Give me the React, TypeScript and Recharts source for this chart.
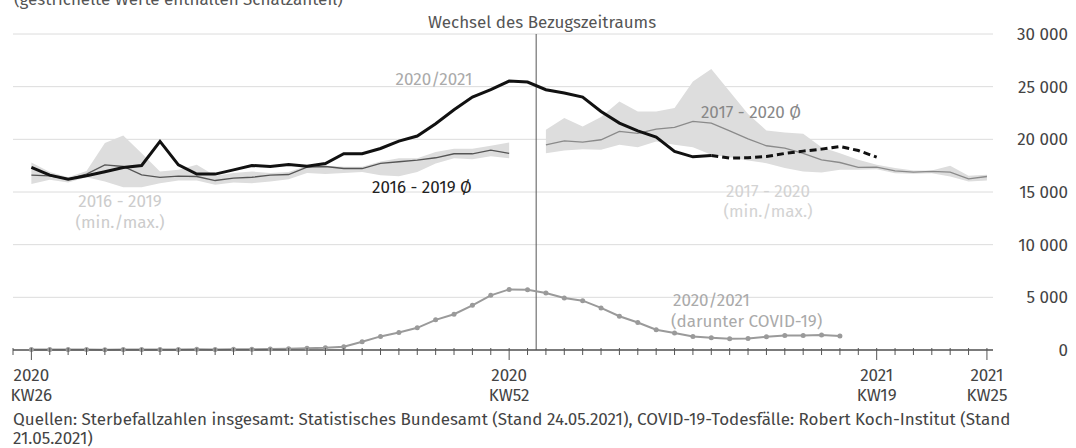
import React from "react";
import {
  ComposedChart,
  Line,
  Area,
  XAxis,
  YAxis,
  CartesianGrid,
  ReferenceLine,
} from "recharts";

// week 0 = 2020 KW26 ... week 27 = 2020 KW53, week 28 = 2021 KW1 ... week 52 = 2021 KW25
const weekLabels = [
  ...Array.from({ length: 28 }, (_, k) => `2020 KW${26 + k}`),
  ...Array.from({ length: 25 }, (_, k) => `2021 KW${1 + k}`),
];

// Sterbefälle 2020/2021 (gesichert)
const deathsStart = 0;
const deaths = [
  17330, 16600, 16220, 16540, 16920, 17330, 17520, 19800, 17580, 16700, 16700,
  17100, 17520, 17420, 17610, 17450, 17700, 18630, 18630, 19130, 19830, 20310,
  21480, 22810, 24010, 24710, 25530, 25440, 24710, 24390, 24010, 22650, 21540,
  20810, 20210, 18850, 18340, 18470,
];

// Sterbefälle 2020/2021 mit Schätzanteil (gestrichelt)
const estStart = 37;
const deathsEst = [18470, 18220, 18250, 18370, 18660, 18880, 19070, 19320, 18940, 18310];

// 2016 - 2019
const avg1619Start = 0;
const avg1619 = [
  16600, 16540, 16220, 16700, 17580, 17420, 16630, 16380, 16510, 16470, 16090,
  16320, 16400, 16600, 16660, 17360, 17420, 17230, 17230, 17710, 17870, 18030,
  18250, 18630, 18630, 18980, 18660,
];
const min1619 = [
  15750, 16160, 15900, 16410, 16000, 15460, 15460, 15840, 16090, 16100, 15700,
  15900, 15840, 16000, 16200, 16800, 16700, 16800, 16900, 16600, 16500, 16900,
  17700, 18200, 18100, 18400, 18200,
];
const max1619 = [
  17800, 16900, 16400, 17000, 19650, 20370, 18690, 16950, 17110, 17580, 16540,
  16800, 16950, 16800, 16900, 17500, 17500, 17400, 17400, 17900, 18200, 18200,
  18800, 19100, 19100, 19400, 19700,
];

// 2017 - 2020
const avg1720Start = 28;
const avg1720 = [
  19480, 19860, 19740, 19960, 20750, 20560, 20970, 21130, 21700, 21540, 20810,
  20050, 19390, 19170, 18660, 18060, 17800, 17330, 17360, 17010, 16890, 16950,
  16890, 16250, 16470,
];
const min1720 = [
  18690, 18940, 19070, 19010, 19480, 19260, 19800, 19480, 19260, 18530, 18310,
  17980, 17740, 17270, 16950, 16850, 17110, 17110, 17170, 16790, 16730, 16790,
  16470, 16000, 16090,
];
const max1720 = [
  20910, 22020, 21220, 22110, 23600, 22650, 22650, 22970, 25500, 26680, 24550,
  22400, 20840, 20650, 20530, 19260, 18690, 18060, 17580, 17270, 17040, 17040,
  17490, 16540, 16630,
];

// darunter COVID-19
const covidStart = 0;
const covid = [
  40, 50, 45, 40, 35, 40, 45, 40, 50, 60, 55, 70, 80, 100, 130, 160, 210, 315,
  786, 1290, 1667, 2107, 2862, 3397, 4246, 5189, 5755, 5724, 5409, 4938, 4686,
  3994, 3208, 2610, 1918, 1604, 1289, 1164, 1069, 1100, 1258, 1384, 1384, 1415,
  1321,
];

const yTicks = [0, 5000, 10000, 15000, 20000, 25000, 30000];
const majorTicks = [0, 26, 46, 52];
const majorYears = ["2020", "2020", "2021", "2021"];
const majorWeeks = ["KW26", "KW52", "KW19", "KW25"];
const xTicks = Array.from({ length: 54 }, (_, k) => k - 1);
const changeWeek = 27.47; // Wechsel des Bezugszeitraums

const at = (arr: number[], start: number, i: number) =>
  i >= start && i < start + arr.length ? arr[i - start] : undefined;

const data = weekLabels.map((week, i) => {
  const lo16 = at(min1619, avg1619Start, i);
  const hi16 = at(max1619, avg1619Start, i);
  const lo17 = at(min1720, avg1720Start, i);
  const hi17 = at(max1720, avg1720Start, i);
  return {
    i,
    week,
    deaths: at(deaths, deathsStart, i),
    est: at(deathsEst, estStart, i),
    avg1619: at(avg1619, avg1619Start, i),
    band1619: lo16 !== undefined && hi16 !== undefined ? [lo16, hi16] : undefined,
    avg1720: at(avg1720, avg1720Start, i),
    band1720: lo17 !== undefined && hi17 !== undefined ? [lo17, hi17] : undefined,
    covid: at(covid, covidStart, i),
  };
});

const FONT = "'Fira Sans', 'Open Sans', sans-serif";
const FS = 17;
const fmt = (v: number) => String(v).replace(/\B(?=(\d{3})+(?!\d))/g, " ");

function XTick({ x, y, payload }: { x?: number; y?: number; payload?: { value: number } }) {
  if (x == null || y == null || !payload) return null;
  const idx = majorTicks.indexOf(payload.value);
  const major = idx >= 0;
  return (
    <g>
      <line x1={x} x2={x} y1={y - 2} y2={y + (major ? 10 : 5)} stroke="#555" strokeWidth={1} />
      {major && (
        <text x={x} y={y + 31} textAnchor="middle" fill="#444" fontSize={FS} fontFamily={FONT}>
          <tspan x={x}>{majorYears[idx]}</tspan>
          <tspan x={x} dy={20}>{majorWeeks[idx]}</tspan>
        </text>
      )}
    </g>
  );
}

function YTick({ x, y, payload }: { x?: number; y?: number; payload?: { value: number } }) {
  if (x == null || y == null || !payload) return null;
  return (
    <text x={x + 75} y={y + 6} textAnchor="end" fill="#444" fontSize={FS} fontFamily={FONT}>
      {fmt(payload.value)}
    </text>
  );
}

export default function App() {
  return (
    <div style={{ position: "absolute", left: 0, top: 0, width: 1076, height: 448, background: "#fff" }}>
      <ComposedChart
        width={1076}
        height={448}
        data={data}
        margin={{ top: 34, right: 8, bottom: 38, left: 13 }}
      >
        <CartesianGrid horizontal vertical={false} stroke="#dcdcdc" />
        <XAxis
          dataKey="i"
          type="number"
          domain={[-1, 52.33]}
          ticks={xTicks}
          interval={0}
          height={60}
          tickSize={0}
          tickMargin={0}
          tickLine={false}
          axisLine={{ stroke: "#555", strokeWidth: 1.5 }}
          tick={<XTick />}
          allowDataOverflow
        />
        <YAxis
          orientation="right"
          domain={[0, 30000]}
          ticks={yTicks}
          width={75}
          tickSize={0}
          tickMargin={0}
          axisLine={false}
          tickLine={false}
          tick={<YTick />}
        />
        <Area dataKey="band1619" stroke="none" fill="#dddddd" fillOpacity={1} isAnimationActive={false} />
        <Area dataKey="band1720" stroke="none" fill="#dddddd" fillOpacity={1} isAnimationActive={false} />
        <ReferenceLine x={changeWeek} stroke="#555" strokeWidth={1} />
        <Line dataKey="avg1619" stroke="#555" strokeWidth={1.3} dot={false} isAnimationActive={false} />
        <Line dataKey="avg1720" stroke="#8a8a8a" strokeWidth={1.3} dot={false} isAnimationActive={false} />
        <Line
          dataKey="covid"
          stroke="#9a9a9a"
          strokeWidth={2}
          dot={{ r: 2.5, fill: "#9a9a9a", stroke: "none" }}
          isAnimationActive={false}
        />
        <Line dataKey="deaths" stroke="#111" strokeWidth={3} dot={false} isAnimationActive={false} />
        <Line
          dataKey="est"
          stroke="#111"
          strokeWidth={3}
          strokeDasharray="7 4"
          dot={false}
          isAnimationActive={false}
        />
      </ComposedChart>

      {/* annotations */}
      <svg
        width={1076}
        height={448}
        style={{ position: "absolute", left: 0, top: 0, pointerEvents: "none" }}
        fontFamily={FONT}
        fontSize={FS}
      >
        <text x={14} y={5} fill="#555">(gestrichelte Werte enthalten Schätzanteil)</text>
        <text x={542} y={28} fill="#555" textAnchor="middle">Wechsel des Bezugszeitraums</text>
        <text x={434} y={85} fill="#aaa" textAnchor="middle">2020/2021</text>
        <text x={422} y={193} fill="#222" textAnchor="middle">2016 - 2019 Ø</text>
        <text x={120} y={207} fill="#ccc" textAnchor="middle">2016 - 2019</text>
        <text x={120} y={228} fill="#ccc" textAnchor="middle">(min./max.)</text>
        <text x={751} y={118} fill="#888" textAnchor="middle">2017 - 2020 Ø</text>
        <text x={768} y={197} fill="#d3d3d3" textAnchor="middle">2017 - 2020</text>
        <text x={768} y={217} fill="#d3d3d3" textAnchor="middle">(min./max.)</text>
        <text x={673} y={306} fill="#aaa">2020/2021</text>
        <text x={671} y={327} fill="#aaa">(darunter COVID-19)</text>
        <text x={13} y={425} fill="#444">
          Quellen: Sterbefallzahlen insgesamt: Statistisches Bundesamt (Stand 24.05.2021), COVID-19-Todesfälle: Robert Koch-Institut (Stand
        </text>
        <text x={13} y={444} fill="#444">21.05.2021)</text>
      </svg>
    </div>
  );
}
